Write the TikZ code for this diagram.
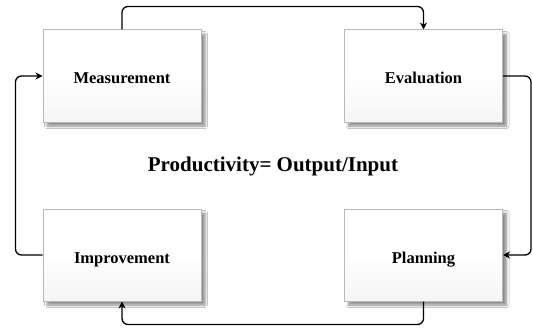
\documentclass[tikz,border=0pt]{standalone}
\usepackage{fontspec}
\setmainfont{Liberation Serif}
\usetikzlibrary{arrows.meta,shadows.blur}
\begin{document}
\begin{tikzpicture}[x=1pt,y=-1pt,
  stage/.style={rectangle, draw=gray!55, line width=1pt,
    top color=white, bottom color=gray!8, middle color=white,
    minimum width=158pt, minimum height=92pt, inner sep=0pt,
    text height=19pt, text depth=3pt,
    font=\fontsize{16.5}{19}\selectfont\bfseries,
    blur shadow={shadow xshift=4pt, shadow yshift=-4pt,
      shadow blur steps=6, shadow blur radius=2.5pt, shadow opacity=45}},
  conn/.style={draw=black, line width=1.3pt, rounded corners=6pt,
    -{Stealth[length=7pt,width=7pt]}}]
\useasboundingbox (0,0) rectangle (533,329);
\fill[white] (0,0) rectangle (533,329);

\node[stage] (meas) at (122,76)  {Measurement};
\node[stage] (eval) at (423.5,76) {Evaluation};
\node[stage] (impr) at (122,255) {Improvement};
\node[stage] (plan) at (423.5,255) {Planning};

\node[font=\fontsize{21}{25}\selectfont\bfseries] (ratio) at (273,166)
  {Productivity= Output/Input};

\draw[conn] (meas.north) -- ++(0,-23) -| (eval.north);
\draw[conn] (eval.east) -- ++(28,0) |- (plan.east);
\draw[conn] (plan.south) -- ++(0,23) -| (impr.south);
\draw[conn] (impr.west) -- ++(-27,0) |- (meas.west);
\end{tikzpicture}
\end{document}
